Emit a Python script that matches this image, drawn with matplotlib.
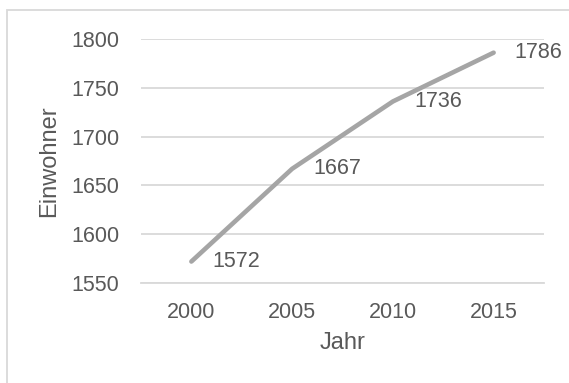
import matplotlib
matplotlib.use("Agg")
import matplotlib.pyplot as plt
from matplotlib.patches import Rectangle

years = ["2000", "2005", "2010", "2015"]
einwohner = [1572, 1667, 1736, 1786]
yticks = [1550, 1600, 1650, 1700, 1750, 1800]

plt.rcParams['font.family'] = ['Liberation Sans', 'DejaVu Sans']
txt = '#595959'
grid = '#d9d9d9'
fs = 15.5

fig = plt.figure(figsize=(5.69, 3.83), dpi=100)
ax = fig.add_axes([141/569, 1-283/383, (544-141)/569, (283-39)/383])

x = list(range(len(years)))
ax.plot(x, einwohner, color='#a5a5a5', lw=3.3, solid_capstyle='round', zorder=3)
for xi, v in zip(x, einwohner):
    ax.annotate(str(v), (xi, v), xytext=(21, 0), textcoords='offset pixels',
                ha='left', va='center', fontsize=fs, color=txt)

ax.set_xlim(-0.5, len(years) - 0.5)
ax.set_ylim(yticks[0], yticks[-1])
ax.set_yticks(yticks)
ax.set_xticks(x)
ax.set_xticklabels(years)
ax.tick_params(axis='both', length=0, labelsize=fs, labelcolor=txt)
ax.tick_params(axis='y', pad=15.5)
ax.tick_params(axis='x', pad=14)
ax.grid(axis='y', color=grid, lw=1.3)
ax.set_axisbelow(True)
for s in ['top', 'right', 'left']:
    ax.spines[s].set_visible(False)
ax.spines['bottom'].set_color(grid)
ax.spines['bottom'].set_linewidth(1.3)

ax.set_ylabel('Einwohner', fontsize=17, color=txt, labelpad=8)
ax.set_xlabel('Jahr', fontsize=17, color=txt, labelpad=6)

fig.patches.append(Rectangle((7/569, -0.1), 1.2, 1 - 10/383 + 0.1,
                             transform=fig.transFigure, fill=False,
                             edgecolor=grid, lw=1.3))

fig.savefig('out.png', dpi=100)
